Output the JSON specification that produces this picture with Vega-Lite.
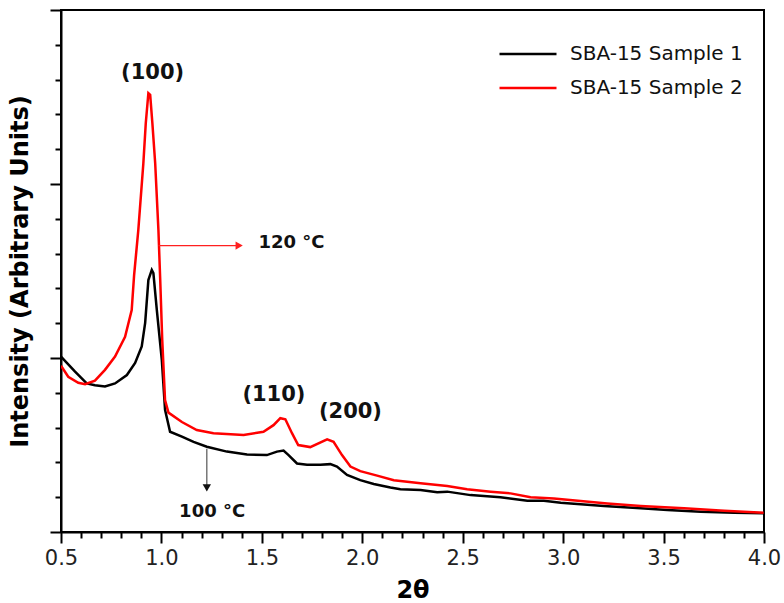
{
  "$schema": "https://vega.github.io/schema/vega-lite/v6.json",
  "width": 703,
  "height": 522,
  "autosize": {"type": "none"},
  "padding": {"left": 61, "top": 10, "right": 20, "bottom": 71},
  "background": "white",
  "config": {"view": {"stroke": "black", "strokeWidth": 2}},
  "datasets": {
    "curves": [
      {"s": "SBA-15 Sample 1", "x": 0.5, "y": 5.04},
      {"s": "SBA-15 Sample 1", "x": 0.57, "y": 4.61},
      {"s": "SBA-15 Sample 1", "x": 0.628, "y": 4.27},
      {"s": "SBA-15 Sample 1", "x": 0.669, "y": 4.22},
      {"s": "SBA-15 Sample 1", "x": 0.719, "y": 4.18},
      {"s": "SBA-15 Sample 1", "x": 0.769, "y": 4.27},
      {"s": "SBA-15 Sample 1", "x": 0.828, "y": 4.51},
      {"s": "SBA-15 Sample 1", "x": 0.869, "y": 4.86},
      {"s": "SBA-15 Sample 1", "x": 0.902, "y": 5.33},
      {"s": "SBA-15 Sample 1", "x": 0.919, "y": 6.01},
      {"s": "SBA-15 Sample 1", "x": 0.935, "y": 7.24},
      {"s": "SBA-15 Sample 1", "x": 0.952, "y": 7.53},
      {"s": "SBA-15 Sample 1", "x": 0.96, "y": 7.44},
      {"s": "SBA-15 Sample 1", "x": 0.977, "y": 6.38},
      {"s": "SBA-15 Sample 1", "x": 1.002, "y": 4.94},
      {"s": "SBA-15 Sample 1", "x": 1.018, "y": 3.51},
      {"s": "SBA-15 Sample 1", "x": 1.043, "y": 2.88},
      {"s": "SBA-15 Sample 1", "x": 1.102, "y": 2.74},
      {"s": "SBA-15 Sample 1", "x": 1.16, "y": 2.59},
      {"s": "SBA-15 Sample 1", "x": 1.226, "y": 2.45},
      {"s": "SBA-15 Sample 1", "x": 1.326, "y": 2.31},
      {"s": "SBA-15 Sample 1", "x": 1.426, "y": 2.23},
      {"s": "SBA-15 Sample 1", "x": 1.525, "y": 2.21},
      {"s": "SBA-15 Sample 1", "x": 1.575, "y": 2.31},
      {"s": "SBA-15 Sample 1", "x": 1.608, "y": 2.34},
      {"s": "SBA-15 Sample 1", "x": 1.633, "y": 2.21},
      {"s": "SBA-15 Sample 1", "x": 1.675, "y": 1.97},
      {"s": "SBA-15 Sample 1", "x": 1.725, "y": 1.93},
      {"s": "SBA-15 Sample 1", "x": 1.791, "y": 1.93},
      {"s": "SBA-15 Sample 1", "x": 1.841, "y": 1.95},
      {"s": "SBA-15 Sample 1", "x": 1.874, "y": 1.88},
      {"s": "SBA-15 Sample 1", "x": 1.924, "y": 1.64},
      {"s": "SBA-15 Sample 1", "x": 1.99, "y": 1.49},
      {"s": "SBA-15 Sample 1", "x": 2.057, "y": 1.38},
      {"s": "SBA-15 Sample 1", "x": 2.14, "y": 1.28},
      {"s": "SBA-15 Sample 1", "x": 2.19, "y": 1.23},
      {"s": "SBA-15 Sample 1", "x": 2.29, "y": 1.21},
      {"s": "SBA-15 Sample 1", "x": 2.373, "y": 1.14},
      {"s": "SBA-15 Sample 1", "x": 2.423, "y": 1.16},
      {"s": "SBA-15 Sample 1", "x": 2.539, "y": 1.06},
      {"s": "SBA-15 Sample 1", "x": 2.688, "y": 1.0},
      {"s": "SBA-15 Sample 1", "x": 2.822, "y": 0.9},
      {"s": "SBA-15 Sample 1", "x": 2.904, "y": 0.9},
      {"s": "SBA-15 Sample 1", "x": 2.988, "y": 0.84},
      {"s": "SBA-15 Sample 1", "x": 3.203, "y": 0.75},
      {"s": "SBA-15 Sample 1", "x": 3.386, "y": 0.68},
      {"s": "SBA-15 Sample 1", "x": 3.519, "y": 0.63},
      {"s": "SBA-15 Sample 1", "x": 3.685, "y": 0.58},
      {"s": "SBA-15 Sample 1", "x": 3.851, "y": 0.55},
      {"s": "SBA-15 Sample 1", "x": 3.998, "y": 0.54},
      {"s": "SBA-15 Sample 2", "x": 0.5, "y": 4.78},
      {"s": "SBA-15 Sample 2", "x": 0.536, "y": 4.46},
      {"s": "SBA-15 Sample 2", "x": 0.586, "y": 4.29},
      {"s": "SBA-15 Sample 2", "x": 0.62, "y": 4.25},
      {"s": "SBA-15 Sample 2", "x": 0.669, "y": 4.35},
      {"s": "SBA-15 Sample 2", "x": 0.719, "y": 4.66},
      {"s": "SBA-15 Sample 2", "x": 0.769, "y": 5.04},
      {"s": "SBA-15 Sample 2", "x": 0.819, "y": 5.61},
      {"s": "SBA-15 Sample 2", "x": 0.852, "y": 6.38},
      {"s": "SBA-15 Sample 2", "x": 0.864, "y": 7.38},
      {"s": "SBA-15 Sample 2", "x": 0.885, "y": 8.68},
      {"s": "SBA-15 Sample 2", "x": 0.91, "y": 10.59},
      {"s": "SBA-15 Sample 2", "x": 0.922, "y": 11.74},
      {"s": "SBA-15 Sample 2", "x": 0.935, "y": 12.61},
      {"s": "SBA-15 Sample 2", "x": 0.944, "y": 12.56},
      {"s": "SBA-15 Sample 2", "x": 0.955, "y": 11.74},
      {"s": "SBA-15 Sample 2", "x": 0.969, "y": 10.59},
      {"s": "SBA-15 Sample 2", "x": 0.985, "y": 8.68},
      {"s": "SBA-15 Sample 2", "x": 0.994, "y": 7.24},
      {"s": "SBA-15 Sample 2", "x": 1.004, "y": 5.52},
      {"s": "SBA-15 Sample 2", "x": 1.018, "y": 3.79},
      {"s": "SBA-15 Sample 2", "x": 1.035, "y": 3.43},
      {"s": "SBA-15 Sample 2", "x": 1.102, "y": 3.16},
      {"s": "SBA-15 Sample 2", "x": 1.176, "y": 2.93},
      {"s": "SBA-15 Sample 2", "x": 1.259, "y": 2.84},
      {"s": "SBA-15 Sample 2", "x": 1.409, "y": 2.79},
      {"s": "SBA-15 Sample 2", "x": 1.508, "y": 2.88},
      {"s": "SBA-15 Sample 2", "x": 1.558, "y": 3.07},
      {"s": "SBA-15 Sample 2", "x": 1.592, "y": 3.27},
      {"s": "SBA-15 Sample 2", "x": 1.617, "y": 3.24},
      {"s": "SBA-15 Sample 2", "x": 1.65, "y": 2.84},
      {"s": "SBA-15 Sample 2", "x": 1.681, "y": 2.5},
      {"s": "SBA-15 Sample 2", "x": 1.741, "y": 2.44},
      {"s": "SBA-15 Sample 2", "x": 1.825, "y": 2.66},
      {"s": "SBA-15 Sample 2", "x": 1.857, "y": 2.59},
      {"s": "SBA-15 Sample 2", "x": 1.899, "y": 2.21},
      {"s": "SBA-15 Sample 2", "x": 1.941, "y": 1.88},
      {"s": "SBA-15 Sample 2", "x": 1.99, "y": 1.75},
      {"s": "SBA-15 Sample 2", "x": 2.074, "y": 1.62},
      {"s": "SBA-15 Sample 2", "x": 2.157, "y": 1.49},
      {"s": "SBA-15 Sample 2", "x": 2.29, "y": 1.4},
      {"s": "SBA-15 Sample 2", "x": 2.423, "y": 1.32},
      {"s": "SBA-15 Sample 2", "x": 2.522, "y": 1.23},
      {"s": "SBA-15 Sample 2", "x": 2.639, "y": 1.16},
      {"s": "SBA-15 Sample 2", "x": 2.738, "y": 1.11},
      {"s": "SBA-15 Sample 2", "x": 2.838, "y": 1.0},
      {"s": "SBA-15 Sample 2", "x": 2.954, "y": 0.96},
      {"s": "SBA-15 Sample 2", "x": 3.087, "y": 0.89},
      {"s": "SBA-15 Sample 2", "x": 3.22, "y": 0.82},
      {"s": "SBA-15 Sample 2", "x": 3.386, "y": 0.75},
      {"s": "SBA-15 Sample 2", "x": 3.602, "y": 0.68},
      {"s": "SBA-15 Sample 2", "x": 3.802, "y": 0.61},
      {"s": "SBA-15 Sample 2", "x": 3.998, "y": 0.55}
    ],
    "peaks": [
      {"label": "(100)", "x": 0.956, "y": 13.19},
      {"label": "(110)", "x": 1.56, "y": 3.94},
      {"label": "(200)", "x": 1.941, "y": 3.45}
    ],
    "temps": [
      {"label": "120 °C", "x": 1.483, "y": 8.3},
      {"label": "100 °C", "x": 1.088, "y": 0.58}
    ],
    "arrows": [
      {"side": "red", "x": 0.985, "y": 8.23, "x2": 1.38, "y2": 8.23, "tx": 1.387, "ty": 8.23},
      {"side": "black", "x": 1.226, "y": 2.39, "x2": 1.226, "y2": 1.3, "tx": 1.226, "ty": 1.27}
    ]
  },
  "layer": [
    {
      "data": {"name": "curves"},
      "mark": {"type": "line", "strokeWidth": 2.5, "clip": true},
      "encoding": {
        "x": {
          "field": "x", "type": "quantitative",
          "scale": {"domain": [0.5, 4.0], "nice": false, "zero": false},
          "axis": {
            "title": "2θ", "titleFont": "DejaVu Sans", "titleFontWeight": "bold", "titleFontSize": 24, "titleColor": "black", "titlePadding": 10,
            "values": [0.5,0.6,0.7,0.8,0.9,1.0,1.1,1.2,1.3,1.4,1.5,1.6,1.7,1.8,1.9,2.0,2.1,2.2,2.3,2.4,2.5,2.6,2.7,2.8,2.9,3.0,3.1,3.2,3.3,3.4,3.5,3.6,3.7,3.8,3.9,4.0],
            "tickCount": 200,
            "labelExpr": "round(datum.value*10) % 5 == 0 ? format(datum.value, '.1f') : ''",
            "labelFont": "DejaVu Sans", "labelFontSize": 21, "labelColor": "#222", "labelPadding": 4,
            "labelOverlap": false, "labelFlush": false,
            "tickSize": {"condition": {"test": "round(datum.value*10) % 5 == 0", "value": 11}, "value": 6},
            "tickColor": "black", "tickWidth": 2, "domainColor": "black", "domainWidth": 2, "grid": false
          }
        },
        "y": {
          "field": "y", "type": "quantitative",
          "scale": {"domain": [0, 15], "nice": false, "zero": false},
          "axis": {
            "title": "Intensity (Arbitrary Units)", "titleFont": "DejaVu Sans", "titleFontWeight": "bold", "titleFontSize": 24, "titleColor": "black", "titlePadding": 17,
            "values": [0,1,2,3,4,5,6,7,8,9,10,11,12,13,14,15],
            "tickCount": 200,
            "labels": false,
            "tickSize": {"condition": {"test": "datum.value % 5 == 0", "value": 11}, "value": 6},
            "tickColor": "black", "tickWidth": 2, "domainColor": "black", "domainWidth": 2, "grid": false
          }
        },
        "color": {
          "field": "s", "type": "nominal",
          "scale": {"domain": ["SBA-15 Sample 1", "SBA-15 Sample 2"], "range": ["#000000", "#ff0000"]},
          "legend": {
            "title": null, "orient": "none", "legendX": 456, "legendY": 33,
            "symbolType": "M-3,0H3", "symbolSize": 361, "symbolStrokeWidth": 2.5,
            "labelFont": "DejaVu Sans", "labelFontSize": 20, "labelColor": "#111", "labelLimit": 400,
            "labelOffset": 31, "rowPadding": 13, "padding": 0
          }
        }
      }
    },
    {
      "data": {"name": "arrows"},
      "transform": [{"filter": "datum.side == 'red'"}],
      "mark": {"type": "rule", "color": "#ff2020", "strokeWidth": 1.2},
      "encoding": {
        "x": {"field": "x", "type": "quantitative"},
        "y": {"field": "y", "type": "quantitative"},
        "x2": {"field": "x2"},
        "y2": {"field": "y2"}
      }
    },
    {
      "data": {"name": "arrows"},
      "transform": [{"filter": "datum.side == 'red'"}],
      "mark": {"type": "point", "shape": "triangle-right", "filled": true, "color": "#ff2020", "size": 70, "opacity": 1},
      "encoding": {
        "x": {"field": "tx", "type": "quantitative"},
        "y": {"field": "ty", "type": "quantitative"}
      }
    },
    {
      "data": {"name": "arrows"},
      "transform": [{"filter": "datum.side == 'black'"}],
      "mark": {"type": "rule", "color": "#555555", "strokeWidth": 1.2},
      "encoding": {
        "x": {"field": "x", "type": "quantitative"},
        "y": {"field": "y", "type": "quantitative"},
        "x2": {"field": "x2"},
        "y2": {"field": "y2"}
      }
    },
    {
      "data": {"name": "arrows"},
      "transform": [{"filter": "datum.side == 'black'"}],
      "mark": {"type": "point", "shape": "triangle-down", "filled": true, "color": "#111111", "size": 70, "opacity": 1},
      "encoding": {
        "x": {"field": "tx", "type": "quantitative"},
        "y": {"field": "ty", "type": "quantitative"}
      }
    },
    {
      "data": {"name": "peaks"},
      "mark": {"type": "text", "font": "DejaVu Sans", "fontWeight": "bold", "fontSize": 21, "color": "#111", "align": "center", "baseline": "middle"},
      "encoding": {
        "x": {"field": "x", "type": "quantitative"},
        "y": {"field": "y", "type": "quantitative"},
        "text": {"field": "label"}
      }
    },
    {
      "data": {"name": "temps"},
      "mark": {"type": "text", "font": "DejaVu Sans", "fontWeight": "bold", "fontSize": 18, "color": "#111", "align": "left", "baseline": "middle"},
      "encoding": {
        "x": {"field": "x", "type": "quantitative"},
        "y": {"field": "y", "type": "quantitative"},
        "text": {"field": "label"}
      }
    }
  ]
}
